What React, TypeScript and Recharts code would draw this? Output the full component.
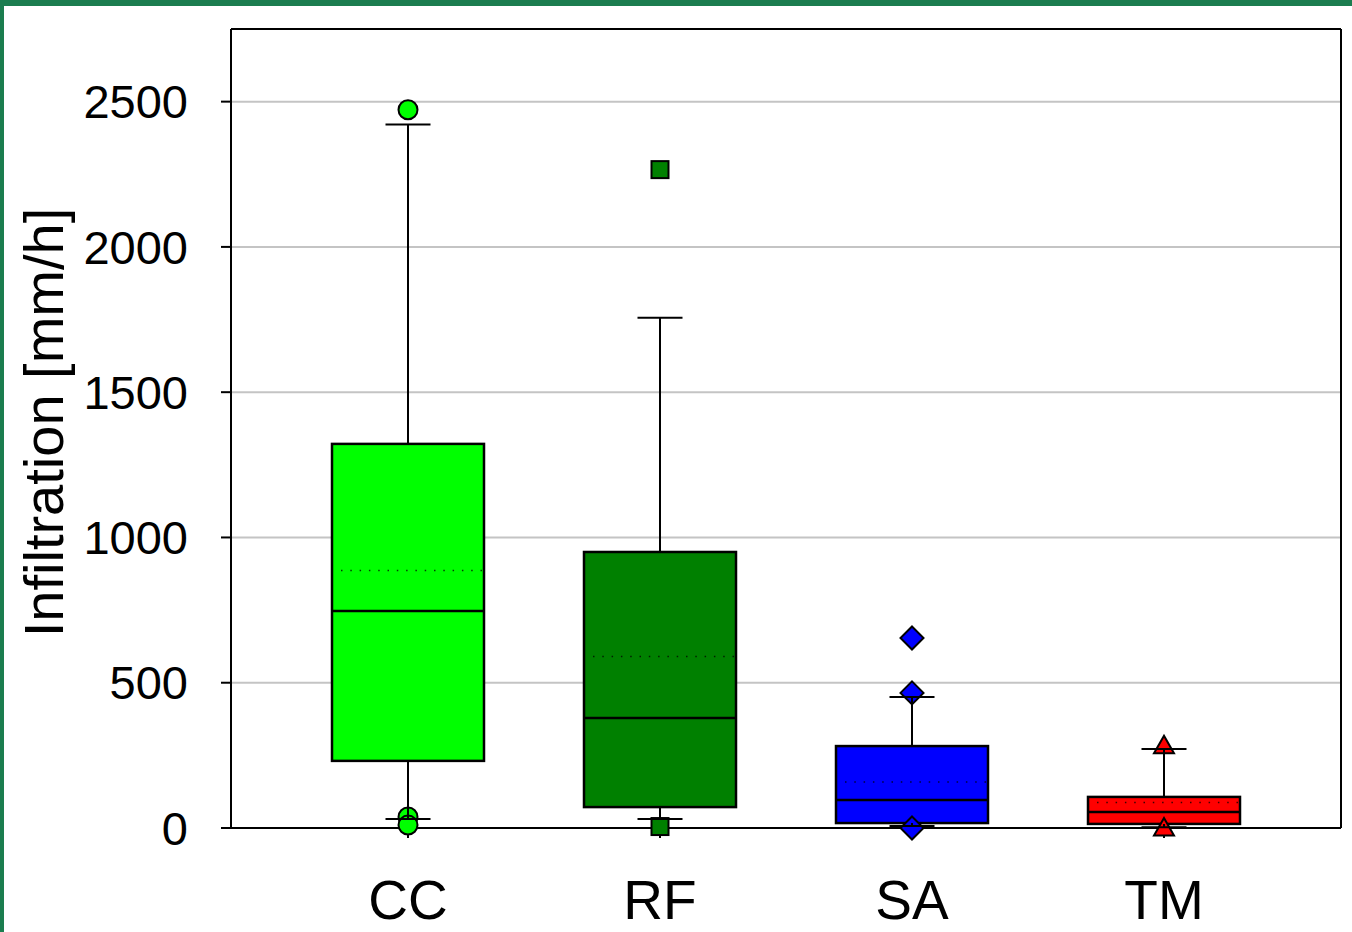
import React from 'react';
import { ComposedChart, Bar, Scatter, XAxis, YAxis, CartesianGrid } from 'recharts';

const categories = ['CC', 'RF', 'SA', 'TM'];
const q1Values = [231, 72, 17, 14];
const medianValues = [747, 379, 96, 55];
const q3Values = [1322, 950, 282, 107];
const meanValues = [886, 590, 158, 88];
const whiskerLow = [31, 31, 7, 3];
const whiskerHigh = [2421, 1756, 451, 272];
const outlierValues = [
  [2472, 38, 10],
  [2266, 5],
  [654, 465, 0],
  [283, 0],
];
const yTicks = [0, 500, 1000, 1500, 2000, 2500];
const yDomain = [0, 2750];

const FONT = '"Liberation Sans", Arial, sans-serif';
const fills: Record<string, string> = { CC: '#00ff00', RF: '#008000', SA: '#0000ff', TM: '#ff0000' };
const markers: Record<string, string> = { CC: 'circle', RF: 'square', SA: 'diamond', TM: 'triangle' };

const BOX = 152;
const CAP = 22.5;

const data = categories.map((name, i) => ({
  name,
  box: [q1Values[i], q3Values[i]],
  upper: [q3Values[i], whiskerHigh[i]],
  lower: [whiskerLow[i], q1Values[i]],
  median: medianValues[i],
  mean: meanValues[i],
  o0: outlierValues[i][0],
  o1: outlierValues[i][1],
  o2: outlierValues[i][2],
}));

const nameOf = (p: any) => (p.payload && p.payload.name) || categories[p.index] || 'CC';

const BoxShape = (p: any) => {
  const top = Math.min(p.y, p.y + p.height);
  const h = Math.abs(p.height);
  return (
    <rect x={p.x} y={top} width={p.width} height={h} fill={fills[nameOf(p)]} stroke="#000" strokeWidth={2.5} />
  );
};

const UpperWhisker = (p: any) => {
  const cx = p.x + p.width / 2;
  const top = Math.min(p.y, p.y + p.height);
  const bottom = Math.max(p.y, p.y + p.height);
  return (
    <g>
      <line x1={cx} x2={cx} y1={top} y2={bottom} stroke="#000" strokeWidth={2} />
      <line x1={cx - CAP} x2={cx + CAP} y1={top} y2={top} stroke="#000" strokeWidth={2} />
    </g>
  );
};

const LowerWhisker = (p: any) => {
  const cx = p.x + p.width / 2;
  const top = Math.min(p.y, p.y + p.height);
  const bottom = Math.max(p.y, p.y + p.height);
  return (
    <g>
      <line x1={cx} x2={cx} y1={top} y2={bottom} stroke="#000" strokeWidth={2} />
      <line x1={cx - CAP} x2={cx + CAP} y1={bottom} y2={bottom} stroke="#000" strokeWidth={2} />
    </g>
  );
};

const MedianShape = (p: any) => {
  if (p.cx == null || p.cy == null || isNaN(p.cy)) return <g />;
  return <line x1={p.cx - BOX / 2} x2={p.cx + BOX / 2} y1={p.cy} y2={p.cy} stroke="#000" strokeWidth={2.5} />;
};

const MeanShape = (p: any) => {
  if (p.cx == null || p.cy == null || isNaN(p.cy)) return <g />;
  return (
    <line
      x1={p.cx - BOX / 2 + 9}
      x2={p.cx + BOX / 2}
      y1={p.cy}
      y2={p.cy}
      stroke="#000"
      strokeOpacity={0.75}
      strokeWidth={1.5}
      strokeDasharray="1.5 7.8"
    />
  );
};

const makeOutlierShape = (key: string) => (p: any) => {
  const payload = p.payload || {};
  if (payload[key] == null || p.cx == null || p.cy == null || isNaN(p.cy)) return <g />;
  const name = nameOf(p);
  const fill = fills[name];
  const { cx, cy } = p;
  const common = { fill, stroke: '#000', strokeWidth: 2 };
  switch (markers[name]) {
    case 'circle':
      return <circle cx={cx} cy={cy} r={9.5} {...common} />;
    case 'square':
      return <rect x={cx - 8.5} y={cy - 8.5} width={17} height={17} {...common} />;
    case 'diamond':
      return <polygon points={`${cx},${cy - 11.5} ${cx + 11.5},${cy} ${cx},${cy + 11.5} ${cx - 11.5},${cy}`} {...common} />;
    default:
      return <polygon points={`${cx},${cy - 10} ${cx + 10},${cy + 7.5} ${cx - 10},${cy + 7.5}`} {...common} />;
  }
};

const axisStroke = { stroke: '#000', strokeWidth: 2 };

export default function App() {
  return (
    <div style={{ position: 'absolute', left: 0, top: 0, width: 1352, height: 932, background: '#fff', fontFamily: FONT }}>
      <ComposedChart
        width={1352}
        height={932}
        data={data}
        margin={{ top: 28, right: 10, bottom: 0, left: 0 }}
        barGap={-BOX}
      >
        <CartesianGrid vertical={false} stroke="#c4c4c4" strokeWidth={2} />
        <XAxis
          dataKey="name"
          type="category"
          padding={{ left: 51, right: 51 }}
          height={104}
          interval={0}
          tickSize={10}
          tickMargin={42}
          axisLine={axisStroke}
          tickLine={axisStroke}
          tick={{ fontSize: 55, fill: '#000', fontFamily: FONT }}
        />
        <XAxis
          xAxisId="top"
          dataKey="name"
          orientation="top"
          height={1}
          tick={false}
          tickLine={false}
          axisLine={axisStroke}
        />
        <YAxis
          domain={yDomain}
          ticks={yTicks}
          interval={0}
          width={231}
          tickSize={10}
          tickMargin={33}
          axisLine={axisStroke}
          tickLine={axisStroke}
          tick={{ fontSize: 47, fill: '#000', fontFamily: FONT }}
          label={{
            value: 'Infiltration [mm/h]',
            angle: -90,
            position: 'insideLeft',
            offset: 43,
            dy: -6,
            style: { textAnchor: 'middle', fontSize: 56, fill: '#000', fontFamily: FONT },
          }}
        />
        <YAxis
          yAxisId="in"
          mirror
          domain={yDomain}
          ticks={yTicks}
          interval={0}
          width={1}
          tick={false}
          axisLine={false}
          tickSize={10}
          tickLine={axisStroke}
        />
        <YAxis
          yAxisId="right"
          orientation="right"
          domain={yDomain}
          width={1}
          tick={false}
          tickLine={false}
          axisLine={axisStroke}
        />
        <Scatter dataKey="o0" shape={makeOutlierShape('o0')} isAnimationActive={false} />
        <Scatter dataKey="o1" shape={makeOutlierShape('o1')} isAnimationActive={false} />
        <Scatter dataKey="o2" shape={makeOutlierShape('o2')} isAnimationActive={false} />
        <Bar dataKey="box" barSize={BOX} shape={BoxShape} isAnimationActive={false} />
        <Bar dataKey="upper" barSize={BOX} shape={UpperWhisker} isAnimationActive={false} {...({ zIndex: 700 } as any)} />
        <Bar dataKey="lower" barSize={BOX} shape={LowerWhisker} isAnimationActive={false} {...({ zIndex: 700 } as any)} />
        <Scatter dataKey="median" shape={MedianShape} isAnimationActive={false} />
        <Scatter dataKey="mean" shape={MeanShape} isAnimationActive={false} />
      </ComposedChart>
      <div style={{ position: 'absolute', left: 0, top: 0, width: 1352, height: 6, background: '#1b7d4f' }} />
      <div style={{ position: 'absolute', left: 0, top: 0, width: 4, height: 932, background: '#1b7d4f' }} />
    </div>
  );
}
